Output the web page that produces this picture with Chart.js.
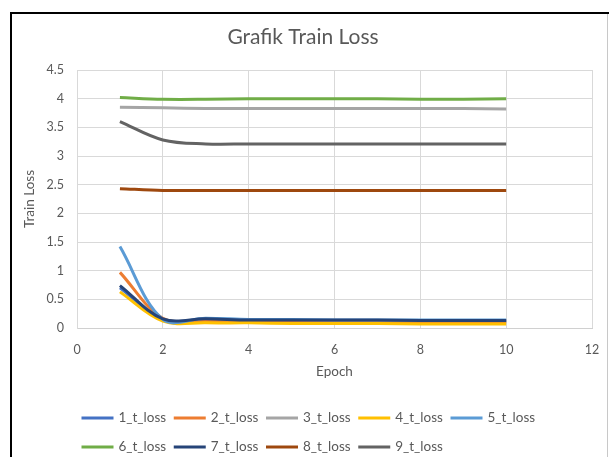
<!DOCTYPE html>
<html>
<head>
<meta charset="utf-8">
<script src="https://cdn.jsdelivr.net/npm/chart.js@4/dist/chart.umd.min.js"></script>
<style>
  html, body { margin: 0; padding: 0; background: #ffffff; }
  #wrap { width: 609px; height: 457px; position: relative; }
</style>
</head>
<body>
<div id="wrap"><canvas id="c" width="609" height="457"></canvas></div>
<script>
const epochs = [1, 2, 3, 4, 5, 6, 7, 8, 9, 10];
const seriesNames = ["1_t_loss", "2_t_loss", "3_t_loss", "4_t_loss", "5_t_loss", "6_t_loss", "7_t_loss", "8_t_loss", "9_t_loss"];
const loss1 = [0.70, 0.15, 0.13, 0.13, 0.13, 0.12, 0.12, 0.12, 0.12, 0.12];
const loss2 = [0.97, 0.17, 0.12, 0.12, 0.11, 0.11, 0.11, 0.11, 0.11, 0.11];
const loss3 = [3.85, 3.84, 3.83, 3.83, 3.83, 3.83, 3.83, 3.83, 3.83, 3.82];
const loss4 = [0.63, 0.12, 0.09, 0.09, 0.08, 0.08, 0.08, 0.07, 0.07, 0.07];
const loss5 = [1.42, 0.15, 0.17, 0.15, 0.15, 0.14, 0.14, 0.14, 0.14, 0.14];
const loss6 = [4.02, 3.99, 3.99, 4.00, 4.00, 4.00, 4.00, 3.99, 3.99, 4.00];
const loss7 = [0.74, 0.16, 0.16, 0.14, 0.14, 0.14, 0.14, 0.13, 0.13, 0.13];
const loss8 = [2.43, 2.40, 2.40, 2.40, 2.40, 2.40, 2.40, 2.40, 2.40, 2.40];
const loss9 = [3.60, 3.28, 3.21, 3.21, 3.21, 3.21, 3.21, 3.21, 3.21, 3.21];
const seriesValues = [loss1, loss2, loss3, loss4, loss5, loss6, loss7, loss8, loss9];
const seriesColors = ["#4472C4", "#ED7D31", "#A5A5A5", "#FFC000", "#5B9BD5", "#70AD47", "#264478", "#9E480E", "#636363"];
const xTicksMin = 0, xTicksMax = 12, xStep = 2;
const yTicksMin = 0, yTicksMax = 4.5, yStep = 0.5;

const FONT = "Lato";
const TXT = "#595959";

const datasets = seriesNames.map((name, i) => ({
  label: name,
  data: epochs.map((e, k) => ({ x: e, y: seriesValues[i][k] })),
  borderColor: seriesColors[i],
  backgroundColor: seriesColors[i],
  borderWidth: 3,
  pointRadius: 0,
  tension: 0.35,
  fill: false,
  order: seriesNames.length - i
}));

const framePlugin = {
  id: "frame",
  beforeDraw(chart) {
    const ctx = chart.ctx;
    ctx.save();
    ctx.fillStyle = "#ffffff";
    ctx.fillRect(0, 0, chart.width, chart.height);
    ctx.fillStyle = "#000000";
    ctx.fillRect(10, 12, 2, chart.height - 12);
    ctx.fillRect(10, 12, chart.width - 10, 2);
    ctx.fillStyle = "#c8c8c8";
    ctx.fillRect(607, 14, 1, chart.height - 14);
    ctx.restore();
  }
};

const legendPlugin = {
  id: "customLegend",
  afterDraw(chart) {
    const ctx = chart.ctx;
    const area = chart.chartArea;
    const perRow = 5;
    const spacing = 92.25;
    const lineLen = 32;
    ctx.save();
    ctx.font = "13.5px " + FONT;
    ctx.textBaseline = "middle";
    ctx.textAlign = "left";
    chart.data.datasets.forEach((ds, i) => {
      const row = Math.floor(i / perRow);
      const col = i % perRow;
      const x = area.left + 4.5 + col * spacing;
      const y = area.bottom + 90 + row * 29;
      ctx.strokeStyle = ds.borderColor;
      ctx.lineWidth = 3;
      ctx.beginPath();
      ctx.moveTo(x, y);
      ctx.lineTo(x + lineLen, y);
      ctx.stroke();
      ctx.fillStyle = TXT;
      ctx.fillText(ds.label, x + lineLen + 5, y);
    });
    ctx.restore();
  }
};

new Chart(document.getElementById("c"), {
  type: "line",
  data: { datasets },
  plugins: [framePlugin, legendPlugin],
  options: {
    responsive: false,
    devicePixelRatio: 1,
    animation: false,
    layout: { padding: { left: 14, right: 17, top: 0, bottom: 72 } },
    plugins: {
      legend: { display: false },
      tooltip: { enabled: false },
      title: {
        display: true,
        text: "Grafik Train Loss",
        color: TXT,
        font: { family: FONT, size: 21, weight: "normal" },
        padding: { top: 24.4, bottom: 20.4 }
      }
    },
    scales: {
      x: {
        type: "linear",
        min: xTicksMin,
        max: xTicksMax,
        ticks: { stepSize: xStep, color: TXT, font: { family: FONT, size: 12.5 }, padding: 14, maxRotation: 0 },
        grid: { color: "#d9d9d9", drawTicks: false },
        border: { color: "#d0d0d0" },
        title: { display: true, text: "Epoch", color: TXT, font: { family: FONT, size: 13.5 }, padding: { top: 0, bottom: 5 } },
        afterFit(s) { s.height = 57; s.paddingLeft = 0; s.paddingRight = 0; }
      },
      y: {
        min: yTicksMin,
        max: yTicksMax,
        ticks: {
          stepSize: yStep, color: TXT, font: { family: FONT, size: 12.5 }, padding: 13,
          callback: (v) => String(Math.round(v * 10) / 10)
        },
        grid: { color: "#d9d9d9", drawTicks: false },
        border: { color: "#d9d9d9" },
        title: { display: true, text: "Train Loss", color: TXT, font: { family: FONT, size: 13.5 }, padding: { top: 8, bottom: 0 } },
        afterFit(s) { s.width = 63; }
      }
    }
  }
});
</script>
</body>
</html>
